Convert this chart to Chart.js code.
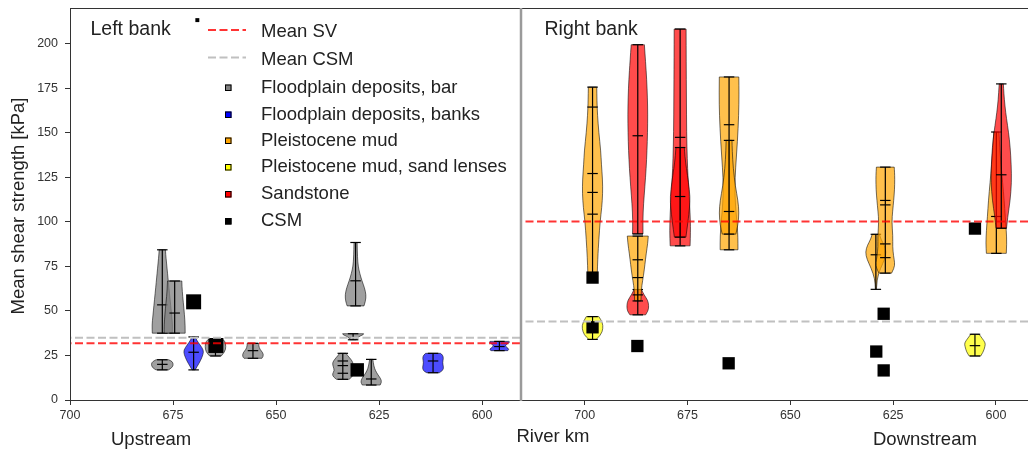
<!DOCTYPE html>
<html>
<head>
<meta charset="utf-8">
<script src="https://cdn.jsdelivr.net/npm/chart.js@4.4.0/dist/chart.umd.min.js"></script>
<style>
  html, body { margin: 0; padding: 0; background: #fff; overflow: hidden; }
  #wrap { position: relative; width: 1028px; height: 451px; }
  canvas { position: absolute; left: 0; top: 0; }
</style>
</head>
<body>
<div id="wrap">
  <canvas id="left" width="1028" height="451"></canvas>
  <canvas id="right" width="1028" height="451"></canvas>
</div>
<script>
// axes
const xTicks = [700, 675, 650, 625, 600];
const yTicks = [0, 25, 50, 75, 100, 125, 150, 175, 200];
const leftRange = [590.8, 700];
const rightRange = [592.2, 715.5];
const yRange = [0, 220];

// mean lines (kPa)
const leftMeanSV = 31.8;
const leftMeanCSM = 35.0;
const rightMeanSV = 100.2;
const rightMeanCSM = 44.0;

// CSM values (km, kPa)
const leftCSM = [
  { x: 670.0, y: 55.1 }, { x: 664.6, y: 30.6 }, { x: 630.3, y: 16.9 }, { x: 669.1, y: 213.2 }
];
const rightCSM = [
  { x: 698.1, y: 68.7 }, { x: 698.1, y: 40.8 }, { x: 687.2, y: 30.3 }, { x: 665.0, y: 20.6 },
  { x: 627.3, y: 48.4 }, { x: 629.1, y: 27.2 }, { x: 627.3, y: 16.6 }, { x: 605.1, y: 96.2 }
];

// violins: km, material, shape = [kPa, relative density], marks = inner lines (kPa)
const leftViolins = [
  { km: 677.6, kind: 'bar', marks: [53.4],
    shape: [[37.5, 0.95], [42, 0.98], [47, 0.9], [53, 0.8], [60, 0.68], [66, 0.58], [71, 0.5], [77, 0.4], [82, 0.32], [84.3, 0.3]] },
  { km: 674.6, kind: 'bar', marks: [48.8],
    shape: [[37.5, 1.0], [42, 1.0], [48, 0.93], [55, 0.82], [61, 0.72], [66.8, 0.68]] },
  { km: 677.6, kind: 'bar', marks: [20],
    shape: [[16.9, 0.6], [18.2, 0.95], [20, 1.05], [21.6, 0.95], [22.6, 0.6]] },
  { km: 670.0, kind: 'banks', marks: [26.8],
    shape: [[16.9, 0.15], [19, 0.35], [22, 0.65], [25.5, 0.9], [28, 0.95], [31, 0.6], [33.5, 0.3], [35.4, 0.15]] },
  { km: 664.7, kind: 'bar', marks: [31.5],
    shape: [[24.7, 0.55], [27, 0.9], [30, 1.0], [33, 0.9], [34, 0.7]] },
  { km: 655.6, kind: 'bar', marks: [27.7],
    shape: [[23.4, 0.85], [24.5, 1.0], [26.5, 0.95], [28.5, 0.65], [30.5, 0.55], [31.8, 0.55]] },
  { km: 630.7, kind: 'bar', marks: [66.9],
    shape: [[52.8, 0.8], [55.5, 0.95], [59, 1.0], [63, 0.85], [67, 0.6], [71, 0.4], [75, 0.25], [80, 0.18], [88.4, 0.15]] },
  { km: 631.3, kind: 'bar', marks: [],
    shape: [[33.8, 0.3], [35, 0.4], [36, 0.7], [36.8, 1.0], [37.2, 1.0]] },
  { km: 633.8, kind: 'bar', marks: [21.9, 19.3, 15],
    shape: [[11.6, 0.6], [13, 0.9], [14.6, 1.0], [16.5, 0.8], [18.5, 0.9], [20.8, 1.0], [23, 0.75], [25, 0.45], [26.2, 0.3]] },
  { km: 626.9, kind: 'bar', marks: [11.8],
    shape: [[8.4, 0.85], [10, 1.0], [12, 0.9], [14, 0.65], [16.5, 0.4], [19, 0.25], [22.8, 0.15]] },
  { km: 611.9, kind: 'banks', marks: [21.9],
    shape: [[15.3, 0.6], [16.5, 0.95], [18.5, 1.0], [21, 0.9], [23.5, 1.0], [25.3, 0.9], [26.2, 0.7]] },
  { km: 595.8, kind: 'banks', marks: [30],
    shape: [[27.7, 0.8], [28.5, 0.95], [29.5, 0.7], [30.5, 0.55], [31.5, 0.75], [32.5, 1.0], [32.9, 0.9]] }
];

const rightViolins = [
  { km: 698.1, kind: 'mud', marks: [164.4, 127.1, 116.5, 104.3],
    shape: [[70.8, 0.45], [80, 0.5], [90, 0.6], [100, 0.72], [108, 0.88], [116, 0.97], [124, 0.95], [132, 0.85], [140, 0.78], [150, 0.6], [160, 0.47], [168, 0.42], [175.6, 0.4]] },
  { km: 698.1, kind: 'lenses', marks: [40.5],
    shape: [[34, 0.35], [36.5, 0.8], [40, 1.0], [43.5, 0.95], [46.8, 0.6]] },
  { km: 687.1, kind: 'sand', marks: [148.3],
    shape: [[93.2, 0.5], [101, 0.48], [110, 0.55], [120, 0.68], [130, 0.8], [140, 0.88], [150, 0.93], [160, 0.95], [170, 0.92], [180, 0.85], [190, 0.74], [199.4, 0.63]] },
  { km: 687.1, kind: 'sand', marks: [],
    shape: [[47.8, 0.75], [50, 1.0], [53, 1.05], [56, 0.95], [59, 0.6], [62, 0.35]] },
  { km: 687.1, kind: 'mud', marks: [78.7, 68.7, 59],
    shape: [[55.6, 0.3], [60, 0.33], [64, 0.38], [70, 0.55], [76, 0.68], [82, 0.8], [88, 0.95], [92, 1.0]] },
  { km: 676.8, kind: 'sand', marks: [147.4],
    shape: [[86.5, 0.95], [95, 1.0], [105, 0.95], [115, 0.85], [125, 0.75], [135, 0.68], [150, 0.62], [170, 0.6], [190, 0.58], [208.2, 0.57]] },
  { km: 676.8, kind: 'sand', marks: [114.2],
    shape: [[91.4, 0.55], [100, 0.75], [108, 0.9], [114, 0.95], [122, 0.8], [130, 0.6], [137, 0.45], [141.7, 0.4]] },
  { km: 664.9, kind: 'mud', marks: [154.5],
    shape: [[84.3, 0.85], [92, 0.85], [100, 0.75], [110, 0.6], [120, 0.55], [130, 0.62], [145, 0.8], [160, 0.92], [172, 0.95], [181.3, 0.93]] },
  { km: 664.9, kind: 'mud', marks: [105.8],
    shape: [[93.1, 0.65], [98, 0.85], [105, 0.95], [112, 0.85], [120, 0.6], [130, 0.4], [140, 0.3], [145.7, 0.28]] },
  { km: 629.2, kind: 'mud', marks: [81.5],
    shape: [[62.1, 0.05], [68, 0.1], [74, 0.45], [79, 0.85], [83, 1.0], [87, 0.8], [90, 0.5], [93, 0.35]] },
  { km: 626.9, kind: 'mud', marks: [112, 109.5, 87.6, 79.9],
    shape: [[71.2, 0.6], [74, 0.85], [77, 0.9], [81, 0.78], [86, 0.7], [92, 0.72], [100, 0.62], [106, 0.7], [112, 0.8], [118, 0.88], [124, 0.9], [128, 0.88], [130.7, 0.85]] },
  { km: 605.1, kind: 'lenses', marks: [30.5],
    shape: [[24.7, 0.55], [27, 0.8], [30, 0.95], [32, 1.0], [34.5, 0.7], [36.9, 0.4]] },
  { km: 599.9, kind: 'mud', marks: [103],
    shape: [[82.3, 0.95], [88, 1.0], [95, 0.95], [103, 0.85], [112, 0.75], [122, 0.6], [132, 0.45], [142, 0.32], [150.4, 0.25]] },
  { km: 598.7, kind: 'sand', marks: [126.4],
    shape: [[96.4, 0.5], [103, 0.62], [112, 0.85], [122, 0.98], [132, 0.95], [142, 0.85], [150, 0.7], [158, 0.5], [165, 0.35], [172, 0.25], [177.4, 0.2]] }
];

const legendLines = [
  { label: 'Mean SV', color: 'rgba(255,0,0,0.8)' },
  { label: 'Mean CSM', color: '#c0c0c0' }
];
const legendMarkers = [
  { label: 'Floodplain deposits, bar', color: '#808080' },
  { label: 'Floodplain deposits, banks', color: '#0000ff' },
  { label: 'Pleistocene mud', color: '#ffa500' },
  { label: 'Pleistocene mud, sand lenses', color: '#ffff00' },
  { label: 'Sandstone', color: '#ff0000' },
  { label: 'CSM', color: '#000000' }
];

const FILL = {
  bar: 'rgba(128,128,128,0.75)',
  banks: 'rgba(0,0,255,0.7)',
  mud: 'rgba(255,165,0,0.7)',
  lenses: 'rgba(255,255,0,0.7)',
  sand: 'rgba(255,0,0,0.7)'
};
const HALF_KM = 2.55;
const FONT = 'Liberation Sans, Arial, sans-serif';

Chart.defaults.font.family = FONT;

function traceSide(ctx, p, first) {
  if (first) ctx.moveTo(p[0][0], p[0][1]); else ctx.lineTo(p[0][0], p[0][1]);
  for (let i = 1; i < p.length - 1; i++) {
    const mx = (p[i][0] + p[i + 1][0]) / 2;
    const my = (p[i][1] + p[i + 1][1]) / 2;
    ctx.quadraticCurveTo(p[i][0], p[i][1], mx, my);
  }
  const last = p[p.length - 1];
  ctx.lineTo(last[0], last[1]);
}

function hline(ctx, x0, x1, y) {
  ctx.beginPath();
  ctx.moveTo(x0, y);
  ctx.lineTo(x1, y);
  ctx.stroke();
}

function violinPlugin(list) {
  return {
    id: 'violins',
    beforeDatasetsDraw(chart) {
      const { ctx, chartArea: a, scales: { x, y } } = chart;
      ctx.save();
      ctx.beginPath();
      ctx.rect(a.left, a.top, a.right - a.left, a.bottom - a.top);
      ctx.clip();
      list.forEach(v => {
        const cx = x.getPixelForValue(v.km);
        const hw = Math.abs(x.getPixelForValue(v.km + HALF_KM) - cx);
        const pts = v.shape.map(([val, d]) => [d * hw, y.getPixelForValue(val)]);
        ctx.beginPath();
        traceSide(ctx, pts.map(p => [cx + p[0], p[1]]), true);
        traceSide(ctx, pts.slice().reverse().map(p => [cx - p[0], p[1]]), false);
        ctx.closePath();
        ctx.fillStyle = FILL[v.kind];
        ctx.fill();
        ctx.strokeStyle = 'rgba(0,0,0,0.55)';
        ctx.lineWidth = 1;
        ctx.stroke();

        const yMin = y.getPixelForValue(v.shape[0][0]);
        const yMax = y.getPixelForValue(v.shape[v.shape.length - 1][0]);
        const cap = hw * 0.5;
        ctx.strokeStyle = '#000';
        ctx.lineWidth = 1.2;
        ctx.beginPath();
        ctx.moveTo(cx, yMin);
        ctx.lineTo(cx, yMax);
        ctx.stroke();
        hline(ctx, cx - cap, cx + cap, yMin);
        hline(ctx, cx - cap, cx + cap, yMax);
        v.marks.forEach(m => {
          const ym = y.getPixelForValue(m);
          hline(ctx, cx - cap, cx + cap, ym);
        });
      });
      ctx.restore();
    }
  };
}

function text(ctx, str, x, y, size, opts = {}) {
  ctx.save();
  ctx.font = size + 'px ' + FONT;
  ctx.fillStyle = opts.color || '#222';
  ctx.textAlign = opts.align || 'left';
  ctx.textBaseline = 'alphabetic';
  ctx.translate(x, y);
  if (opts.rotate) ctx.rotate(opts.rotate);
  ctx.fillText(str, 0, 0);
  ctx.restore();
}

const leftDecor = {
  id: 'leftDecor',
  afterDraw(chart) {
    const { ctx, chartArea: a } = chart;
    ctx.save();
    ctx.strokeStyle = '#333';
    ctx.lineWidth = 1;
    ctx.beginPath();
    ctx.moveTo(a.left + 0.5, a.top + 0.5);
    ctx.lineTo(a.right, a.top + 0.5);
    ctx.moveTo(a.left + 0.5, a.top);
    ctx.lineTo(a.left + 0.5, a.bottom + 0.5);
    ctx.lineTo(a.right, a.bottom + 0.5);
    ctx.stroke();
    ctx.restore();

    text(ctx, 'Left bank', 90.5, 34.5, 19.5);
    text(ctx, 'Upstream', 111, 445, 18.5);
    text(ctx, 'Mean shear strength [kPa]', 24, 206, 18.5, { align: 'center', rotate: -Math.PI / 2 });

    // legend
    const lineY = [30, 57.5];
    legendLines.forEach((it, i) => {
      ctx.save();
      ctx.strokeStyle = it.color;
      ctx.lineWidth = 2;
      ctx.setLineDash([8, 3.5]);
      ctx.beginPath();
      ctx.moveTo(208, lineY[i]);
      ctx.lineTo(246, lineY[i]);
      ctx.stroke();
      ctx.restore();
      text(ctx, it.label, 261, lineY[i] + 7, 18.5);
    });
    const markY = [87.5, 114.5, 140.5, 167, 194, 221];
    legendMarkers.forEach((it, i) => {
      ctx.save();
      ctx.fillStyle = it.color;
      ctx.strokeStyle = '#000';
      ctx.lineWidth = 1;
      ctx.fillRect(225, markY[i] - 3, 6.5, 6.5);
      ctx.strokeRect(225.5, markY[i] - 2.5, 5.5, 5.5);
      ctx.restore();
      text(ctx, it.label, 261, markY[i] + 5, 18.5);
    });
  }
};

const rightDecor = {
  id: 'rightDecor',
  afterDraw(chart) {
    const { ctx, chartArea: a } = chart;
    ctx.save();
    ctx.strokeStyle = '#333';
    ctx.lineWidth = 1;
    ctx.beginPath();
    ctx.moveTo(a.left, a.top + 0.5);
    ctx.lineTo(a.right, a.top + 0.5);
    ctx.moveTo(a.left, a.bottom + 0.5);
    ctx.lineTo(a.right, a.bottom + 0.5);
    ctx.stroke();
    ctx.strokeStyle = '#9a9a9a';
    ctx.lineWidth = 2.5;
    ctx.beginPath();
    ctx.moveTo(a.left, a.top);
    ctx.lineTo(a.left, a.bottom + 1);
    ctx.stroke();
    ctx.restore();

    text(ctx, 'Right bank', 544.5, 34.5, 19.5);
    text(ctx, 'River km', 516.5, 441.5, 18.5);
    text(ctx, 'Downstream', 873, 445, 18.5);
  }
};

function xScale(range) {
  return {
    type: 'linear', reverse: true, min: range[0], max: range[1],
    afterFit(s) { s.height = 51; s.paddingLeft = 0; s.paddingRight = 0; },
    afterBuildTicks(s) { s.ticks = xTicks.map(v => ({ value: v })); },
    ticks: { color: '#333', font: { size: 12.5 }, padding: 3, autoSkip: false, maxRotation: 0, callback: v => String(v) },
    grid: { drawOnChartArea: false, drawTicks: true, tickLength: 5, color: '#333' },
    border: { display: false }
  };
}

function meanLine(value, range, color) {
  return {
    type: 'line', showLine: true, order: 0,
    data: [{ x: range[0], y: value }, { x: range[1], y: value }],
    borderColor: color, borderWidth: 2, borderDash: [8, 3.5], pointRadius: 0, fill: false
  };
}

function csmSet(points, radius) {
  return {
    type: 'scatter', order: 1, data: points,
    pointStyle: 'rect', pointRadius: radius, backgroundColor: '#000', borderWidth: 0
  };
}

new Chart(document.getElementById('left'), {
  type: 'scatter',
  data: {
    datasets: [
      meanLine(leftMeanSV, leftRange, 'rgba(255,0,0,0.8)'),
      meanLine(leftMeanCSM, leftRange, '#c0c0c0'),
      csmSet(leftCSM, [10.6, 10.6, 9.5, 2.8])
    ]
  },
  options: {
    responsive: false, animation: false, devicePixelRatio: 1,
    layout: { autoPadding: false, padding: { left: 0, top: 8, right: 508, bottom: 0 } },
    plugins: { legend: { display: false }, tooltip: { enabled: false } },
    scales: {
      x: xScale(leftRange),
      y: {
        type: 'linear', min: yRange[0], max: yRange[1],
        afterFit(s) { s.width = 70; s.paddingTop = 0; s.paddingBottom = 0; },
        afterBuildTicks(s) { s.ticks = yTicks.map(v => ({ value: v })); },
        ticks: { color: '#333', font: { size: 12.5 }, padding: 7, autoSkip: false, callback: v => String(v) },
        grid: { drawOnChartArea: false, drawTicks: true, tickLength: 5, color: '#333' },
        border: { display: false }
      }
    }
  },
  plugins: [violinPlugin(leftViolins), leftDecor]
});

new Chart(document.getElementById('right'), {
  type: 'scatter',
  data: {
    datasets: [
      meanLine(rightMeanSV, rightRange, 'rgba(255,0,0,0.8)'),
      meanLine(rightMeanCSM, rightRange, '#c0c0c0'),
      csmSet(rightCSM, 8.7)
    ]
  },
  options: {
    responsive: false, animation: false, devicePixelRatio: 1,
    layout: { autoPadding: false, padding: { left: 521, top: 8, right: 0, bottom: 0 } },
    plugins: { legend: { display: false }, tooltip: { enabled: false } },
    scales: {
      x: xScale(rightRange),
      y: { type: 'linear', display: false, min: yRange[0], max: yRange[1] }
    }
  },
  plugins: [violinPlugin(rightViolins), rightDecor]
});
</script>
</body>
</html>
